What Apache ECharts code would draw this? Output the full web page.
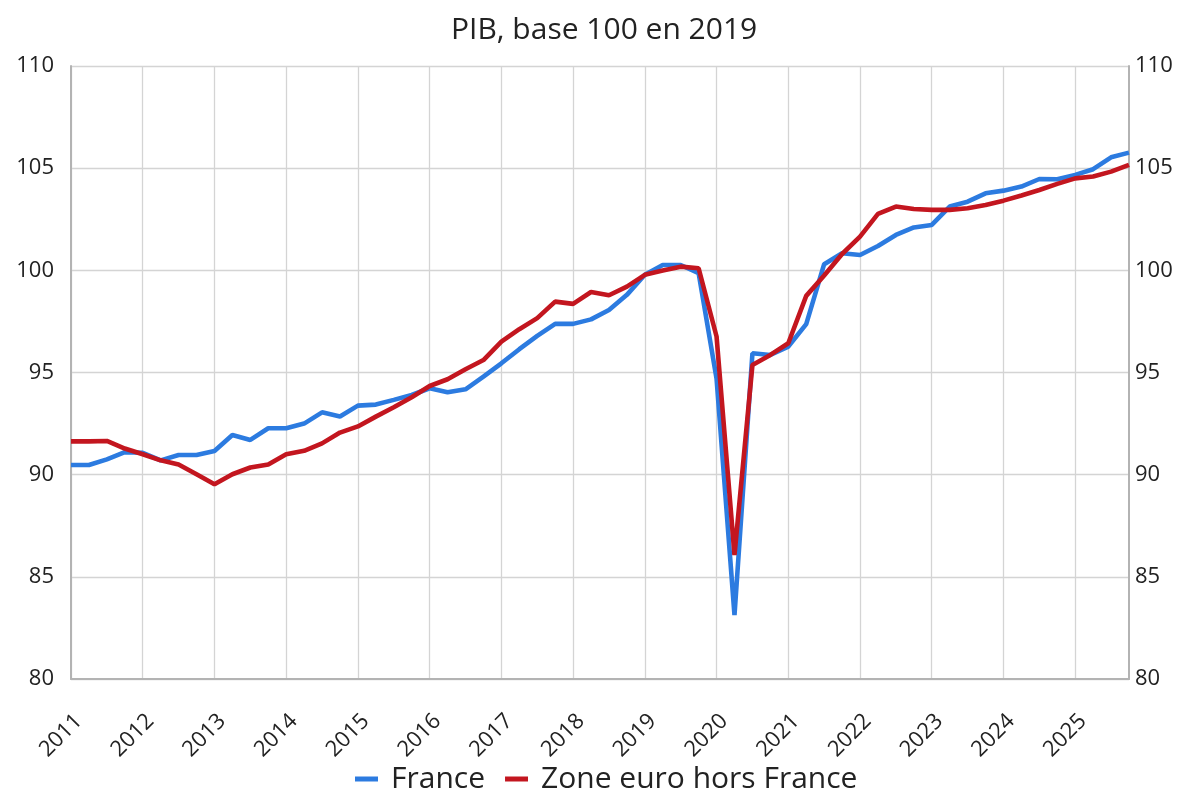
<!DOCTYPE html>
<html>
<head>
<meta charset="utf-8">
<title>PIB, base 100 en 2019</title>
<script src="https://cdn.jsdelivr.net/npm/echarts@6/dist/echarts.min.js"></script>
<style>
  html, body { margin: 0; padding: 0; background: #fff; }
  #chart_pib { width: 1179px; height: 790px; }
</style>
</head>
<body>
<div id="chart_pib"></div>
<script>
// années affichées sur l'axe (un trimestre T1 par année)
var years = ['2011', '2012', '2013', '2014', '2015', '2016', '2017', '2018',
  '2019', '2020', '2021', '2022', '2023', '2024', '2025'];
var quarters = ['T1', 'T2', 'T3', 'T4'];

// PIB trimestriel, base 100 en 2019 (2011T1 -> 2025T4)
var france = [
  90.47, 90.47, 90.75, 91.10, 91.07, 90.70, 90.96, 90.96,
  91.16, 91.94, 91.70, 92.27, 92.27, 92.50, 93.05, 92.85,
  93.38, 93.43, 93.66, 93.90, 94.23, 94.03, 94.18, 94.80,
  95.45, 96.14, 96.79, 97.38, 97.38, 97.60, 98.06, 98.80,
  99.78, 100.26, 100.26, 99.86, 94.70, 83.13, 95.94, 95.86,
  96.27, 97.37, 100.30, 100.84, 100.75, 101.19, 101.73, 102.10,
  102.22, 103.12, 103.36, 103.77, 103.90, 104.10, 104.47, 104.46,
  104.67, 104.95, 105.53, 105.76
];
var zoneEuro = [
  91.63, 91.63, 91.65, 91.28, 91.00, 90.70, 90.50, 90.02,
  89.53, 90.02, 90.35, 90.50, 91.00, 91.17, 91.53, 92.06,
  92.36, 92.84, 93.30, 93.79, 94.34, 94.67, 95.16, 95.61,
  96.51, 97.12, 97.66, 98.47, 98.36, 98.94, 98.78, 99.20,
  99.78, 99.99, 100.18, 100.10, 96.76, 86.07, 95.37, 95.86,
  96.43, 98.75, 99.75, 100.80, 101.65, 102.76, 103.12, 103.00,
  102.96, 102.96, 103.04, 103.20, 103.41, 103.66, 103.93, 104.23,
  104.50, 104.59, 104.83, 105.16
];

// libellés trimestriels
var categories = [];
years.forEach(function(y) {
  quarters.forEach(function(q) {
    categories.push(y + q);
  });
});

var myChart = echarts.init(document.getElementById('chart_pib'));
var fontName = '"Open Sans", "Noto Sans", sans-serif';

// axe Y, le même à gauche et à droite
function yAxisOf(pos) {
  return {
    type: 'value',
    position: pos,
    min: 80,
    max: 110,
    interval: 5,
    axisLine: { show: true, lineStyle: { color: '#b3b3b3', width: 2 } },
    axisTick: { show: false },
    axisLabel: { color: '#222', fontSize: 22, fontFamily: fontName, margin: pos === 'left' ? 17 : 6 },
    splitLine: { show: pos === 'left', lineStyle: { color: '#d4d4d4', width: 1.3 } }
  };
}

var option = {
  title: {
    text: 'PIB, base 100 en 2019',
    left: 446,
    top: 10,
    textStyle: { color: '#222', fontWeight: 'normal', fontSize: 30, fontFamily: fontName }
  },
  legend: {
    top: 759,
    left: 350,
    icon: 'rect',
    itemWidth: 23,
    itemHeight: 5,
    itemGap: 20,
    textStyle: { color: '#222', fontSize: 30, fontFamily: fontName, padding: [0, 0, 0, 8] },
    data: ['France', 'Zone euro hors France']
  },
  grid: {
    left: 71,
    right: 50,
    top: 66,
    bottom: 111
  },
  xAxis: {
    type: 'category',
    boundaryGap: false,
    data: categories,
    axisLine: { lineStyle: { color: '#b3b3b3', width: 2 } },
    axisTick: { show: false },
    axisLabel: {
      interval: 3,
      rotate: 45,
      margin: 31,
      align: 'right',
      verticalAlign: 'top',
      color: '#222',
      fontSize: 22,
      fontFamily: fontName,
      formatter: function(v) { return v.slice(0, 4); }
    },
    splitLine: { show: true, interval: 3, lineStyle: { color: '#d4d4d4', width: 1.3 } }
  },
  yAxis: [yAxisOf('left'), yAxisOf('right')],
  series: [{
    name: 'France',
    type: 'line',
    data: france,
    showSymbol: false,
    color: '#2c7be0',
    lineStyle: { width: 4.6 }
  }, {
    name: 'Zone euro hors France',
    type: 'line',
    data: zoneEuro,
    showSymbol: false,
    color: '#c3161f',
    lineStyle: { width: 4.6 }
  }]
};
myChart.setOption(option);
</script>
</body>
</html>
